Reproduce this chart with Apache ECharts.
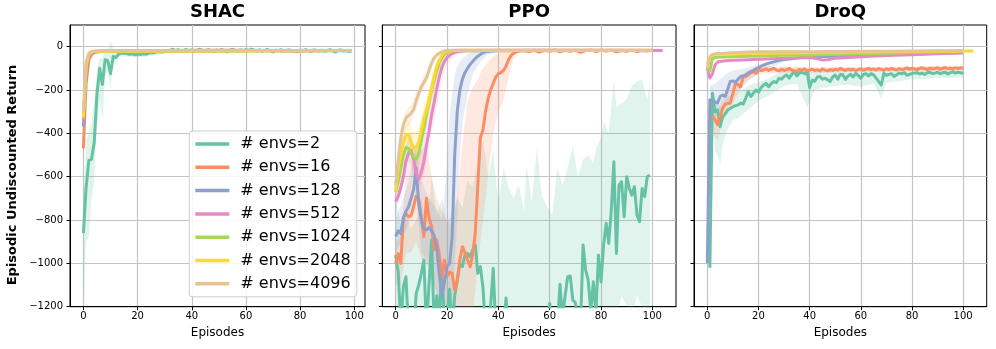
<!DOCTYPE html>
<html>
<head>
<meta charset="utf-8">
<script src="https://cdn.jsdelivr.net/npm/echarts@6/dist/echarts.min.js"></script>
<style>
html,body{margin:0;padding:0;background:#fff;}
#chart{width:996px;height:349px;}
</style>
</head>
<body>
<div id="chart"></div>
<script>
// ---------- labels / ticks ----------
const seriesNames = ['# envs=2', '# envs=16', '# envs=128', '# envs=512', '# envs=1024', '# envs=2048', '# envs=4096'];
const panelTitles = ['SHAC', 'PPO', 'DroQ'];
const xTicks = [0, 20, 40, 60, 80, 100];
const yTicks = [-1200, -1000, -800, -600, -400, -200, 0];
const yLabel = 'Episodic Undiscounted Return';
const xLabel = 'Episodes';

// ---------- SHAC ----------
// per-episode values, episodes 0..99
const SHAC_E2 = [
 -860,-650,-525,-520,-440,-220,-100,-175,-60,-65,
 -125,-45,-50,-35,-30,-30,-32,-35,-33,-38,
 -34,-36,-33,-35,-30,-27,-28,-24,-22,-25,
 -21,-20,-16,-12,-18,-14,-20,-17,-13,-19,
 -15,-22,-16,-12,-18,-21,-14,-17,-23,-15,
 -19,-13,-18,-24,-16,-12,-17,-21,-15,-19,
 -14,-18,-11,-16,-20,-15,-22,-17,-13,-19,
 -24,-16,-18,-14,-21,-17,-15,-20,-18,-23,
 -16,-19,-14,-18,-22,-15,-17,-20,-16,-21,
 -18,-14,-19,-24,-17,-15,-20,-18,-22,-19];
const SHAC_E16 = [[0,-470],[1,-170],[2,-60],[3,-35],[4,-27],[5,-24],[6,-22],[8,-20],[10,-19],[15,-18],[30,-18],[50,-17],[70,-18],[80,-20],[90,-18],[99,-18]];
const SHAC_E128 = [[0,-370],[1,-110],[2,-45],[3,-30],[4,-25],[6,-23],[8,-21],[10,-20],[20,-18],[99,-18]];
const SHAC_E512 = [[0,-340],[1,-95],[2,-40],[3,-27],[4,-22],[6,-20],[10,-19],[99,-18]];
const SHAC_E1024 = [[0,-330],[1,-90],[2,-38],[3,-26],[4,-22],[99,-18]];
const SHAC_E2048 = [[0,-325],[1,-85],[2,-36],[3,-25],[4,-21],[99,-18]];
const SHAC_E4096 = [[0,-300],[1,-70],[2,-30],[3,-22],[4,-20],[6,-19],[99,-18]];
// bands: [episode, lower, upper]
const SHAC_B2 = [[0,-1250,-700],[1,-900,-430],[2,-880,-400],[3,-700,-350],[4,-620,-250],[5,-360,-110],[6,-250,-50],[7,-340,-60],[8,-140,-10],[9,-110,-20],[10,-200,25],[11,-60,-10],[12,-80,-15],[13,-45,-10],[15,-45,-18],[18,-48,-22],[22,-48,-22],[26,-40,-18],[30,-32,-12],[40,-26,-8],[60,-26,-8],[80,-27,-9],[99,-28,-10]];
const SHAC_B16 = [[0,-520,-420],[1,-260,-110],[2,-100,-35],[3,-50,-25],[5,-30,-18],[99,-22,-14]];

// ---------- PPO ----------
const PPO_E2 = [
 -962,-1040,-1280,-1108,-1062,-1300,-1260,-1320,-1140,-1100,
 -1046,-985,-1300,-1100,-892,-1300,-1150,-1240,-1015,-1300,
 -1250,-1120,-1300,-1150,-1080,-1000,-1015,-960,-954,-970,
 -938,-915,-1046,-1015,-1110,-1300,-1350,-1200,-1023,-1300,
 -1380,-1400,-1300,-1160,-1320,-1400,-1450,-1400,-1380,-1420,
 -1450,-1400,-1380,-1420,-1450,-1400,-1380,-1420,-1350,-1300,
 -1185,-1300,-1350,-1300,-1096,-1250,-1150,-1062,-1058,-1170,
 -1180,-1260,-1300,-915,-1031,-1077,-1220,-1085,-1230,-962,
 -1085,-915,-815,-908,-754,-531,-954,-639,-623,-785,
 -600,-654,-685,-646,-777,-808,-654,-692,-600,-592];
const PPO_E16 = [[0,-1000],[1,-955],[2,-1000],[3,-790],[4,-770],[5,-785],[6,-780],[7,-740],[8,-690],[9,-700],[10,-790],[11,-877],[12,-700],[13,-790],[14,-830],[15,-938],[16,-892],[17,-960],[18,-1062],[19,-985],[20,-1062],[21,-1040],[22,-1046],[23,-1123],[24,-1077],[25,-985],[26,-923],[27,-950],[28,-985],[29,-1016],[30,-960],[31,-862],[32,-640],[33,-420],[34,-385],[35,-300],[36,-240],[37,-200],[38,-170],[39,-140],[40,-125],[41,-120],[42,-110],[43,-90],[44,-60],[45,-40],[46,-30],[47,-24],[48,-20],[50,-18],[52,-22],[54,-16],[56,-25],[58,-17],[60,-20],[62,-15],[64,-24],[66,-17],[68,-21],[70,-16],[72,-26],[74,-18],[76,-15],[78,-23],[80,-17],[82,-20],[84,-16],[86,-24],[88,-18],[90,-21],[92,-16],[94,-22],[96,-18],[98,-20],[100,-17]];
const PPO_E128 = [[0,-875],[1,-850],[2,-862],[3,-790],[4,-760],[5,-740],[6,-700],[7,-660],[8,-560],[9,-730],[10,-800],[11,-840],[12,-845],[13,-835],[14,-850],[15,-870],[16,-930],[17,-1050],[18,-1150],[19,-1090],[20,-1015],[21,-1000],[22,-880],[23,-500],[24,-300],[25,-200],[26,-150],[27,-120],[28,-100],[29,-82],[30,-68],[31,-55],[32,-44],[33,-36],[34,-28],[35,-24],[37,-20],[40,-18],[100,-18]];
const PPO_E512 = [[0,-715],[1,-690],[2,-650],[3,-600],[4,-530],[5,-490],[6,-478],[7,-520],[8,-585],[9,-612],[10,-580],[11,-530],[12,-455],[13,-390],[14,-315],[15,-255],[16,-195],[17,-140],[18,-95],[19,-68],[20,-50],[21,-40],[22,-32],[24,-23],[27,-18],[60,-17],[100,-18],[104,-18]];
const PPO_E1024 = [[0,-670],[1,-625],[2,-560],[3,-500],[4,-465],[5,-470],[6,-495],[7,-510],[8,-518],[9,-495],[10,-430],[11,-375],[12,-310],[13,-255],[14,-200],[15,-155],[16,-110],[17,-75],[18,-50],[19,-35],[20,-28],[22,-20],[25,-18],[100,-18]];
const PPO_E2048 = [[0,-665],[1,-560],[2,-500],[3,-440],[4,-410],[5,-405],[6,-440],[7,-470],[8,-465],[9,-440],[10,-385],[11,-330],[12,-290],[13,-245],[14,-195],[15,-135],[16,-92],[17,-62],[18,-40],[19,-28],[20,-22],[22,-18],[100,-18]];
const PPO_E4096 = [[0,-640],[1,-520],[2,-420],[3,-360],[4,-330],[5,-318],[6,-308],[7,-290],[8,-250],[9,-215],[10,-185],[11,-165],[12,-145],[13,-110],[14,-75],[15,-52],[16,-38],[17,-30],[18,-24],[19,-20],[20,-17],[22,-16],[25,-15],[100,-15]];
const PPO_B2 = [[0,-1300,-700],[2,-1400,-820],[4,-1400,-780],[6,-1400,-840],[8,-1400,-800],[10,-1400,-700],[12,-1400,-850],[14,-1400,-600],[16,-1400,-780],[18,-1400,-700],[20,-1400,-820],[22,-1400,-760],[24,-1400,-700],[26,-1400,-740],[28,-1400,-620],[30,-1400,-650],[32,-1400,-520],[34,-1400,-430],[36,-1400,-600],[38,-1400,-480],[40,-1400,-720],[42,-1400,-560],[44,-1400,-650],[46,-1400,-700],[48,-1400,-640],[50,-1400,-760],[51,-1400,-547],[53,-1400,-720],[55,-1400,-470],[57,-1400,-690],[59,-1400,-740],[61,-1400,-780],[63,-1400,-560],[65,-1400,-640],[67,-1400,-560],[69,-1400,-461],[71,-1400,-600],[73,-1400,-520],[75,-1400,-500],[77,-1400,-540],[78,-1400,-470],[80,-1350,-420],[81,-1300,-346],[83,-1300,-400],[85,-1200,-154],[86,-1250,-280],[88,-1150,-262],[90,-1200,-240],[92,-1250,-180],[94,-1150,-162],[96,-1200,-150],[98,-1250,-250],[99,-1200,-160]];
const PPO_B16 = [[0,-1100,-900],[2,-1100,-880],[4,-950,-600],[6,-950,-560],[8,-900,-450],[10,-980,-480],[12,-1000,-450],[14,-1050,-600],[16,-1150,-700],[18,-1300,-760],[20,-1300,-800],[22,-1350,-820],[24,-1350,-700],[26,-1350,-450],[28,-1300,-250],[30,-1250,-190],[32,-1000,-150],[34,-800,-100],[36,-600,-70],[38,-400,-45],[40,-300,-30],[42,-250,-25],[44,-140,-18],[46,-50,-14],[48,-25,-12],[100,-22,-12]];
const PPO_B128 = [[0,-950,-800],[3,-880,-700],[5,-820,-620],[8,-700,-460],[10,-950,-620],[13,-1000,-700],[16,-1150,-750],[18,-1300,-800],[20,-1250,-550],[21,-1250,-330],[22,-1200,-220],[23,-1000,-130],[24,-800,-90],[25,-500,-70],[26,-350,-55],[28,-220,-35],[30,-130,-25],[33,-70,-18],[36,-35,-15],[40,-22,-14],[100,-22,-14]];
const PPO_B512 = [[0,-760,-670],[4,-600,-460],[6,-560,-400],[8,-650,-500],[10,-640,-480],[12,-540,-340],[14,-400,-200],[16,-280,-100],[18,-150,-45],[20,-80,-28],[24,-30,-16],[104,-22,-14]];
const PPO_B1024 = [[0,-700,-640],[4,-520,-410],[6,-550,-440],[8,-570,-460],[10,-490,-370],[12,-370,-250],[14,-250,-150],[16,-150,-75],[18,-70,-35],[21,-30,-18],[100,-22,-14]];
const PPO_B2048 = [[0,-700,-620],[3,-500,-380],[5,-460,-340],[7,-520,-400],[9,-500,-370],[11,-390,-270],[13,-300,-190],[15,-180,-95],[17,-90,-40],[19,-40,-20],[22,-22,-14],[100,-22,-14]];
const PPO_B4096 = [[0,-680,-600],[2,-470,-370],[4,-380,-290],[6,-350,-270],[8,-290,-210],[10,-220,-150],[12,-180,-110],[14,-100,-50],[16,-50,-28],[18,-30,-18],[100,-22,-12]];

// ---------- DroQ ----------
// episodes 1..100
const DROQ_E2 = [
 -1020,-215,-300,-292,-369,-323,-310,-292,-285,-277,
 -272,-269,-261,-265,-238,-208,-230,-215,-200,-210,
 -190,-177,-169,-185,-170,-161,-166,-146,-150,-138,
 -131,-145,-128,-115,-135,-122,-118,-125,-115,-188,
 -154,-160,-140,-138,-150,-146,-152,-161,-140,-131,
 -150,-128,-130,-151,-135,-128,-140,-123,-133,-146,
 -128,-125,-135,-125,-130,-145,-161,-177,-123,-132,
 -128,-125,-138,-130,-122,-125,-120,-132,-128,-124,
 -122,-120,-126,-122,-128,-120,-118,-124,-122,-118,
 -125,-120,-118,-126,-120,-116,-122,-118,-120,-123];
// episodes 2..100
const DROQ_E16 = [
 -320,-335,-360,-320,-285,-265,-262,-260,-215,-170,
 -175,-185,-140,-138,-128,-120,-115,-123,-105,-110,
 -108,-102,-110,-104,-100,-108,-112,-104,-110,-106,
 -100,-108,-112,-115,-105,-110,-102,-112,-108,-104,
 -110,-106,-112,-103,-108,-112,-105,-110,-104,-108,
 -100,-106,-110,-103,-108,-104,-110,-106,-102,-108,
 -104,-100,-106,-103,-108,-101,-105,-109,-102,-106,
 -100,-104,-108,-101,-106,-103,-98,-104,-100,-103,
 -106,-100,-97,-102,-106,-99,-103,-100,-97,-104,
 -100,-96,-102,-99,-103,-98,-101,-97,-100];
const DROQ_E128 = [[0,-1000],[1,-246],[2,-250],[3,-255],[4,-260],[5,-230],[6,-223],[7,-230],[8,-195],[9,-161],[10,-158],[11,-165],[12,-150],[13,-138],[14,-135],[15,-131],[16,-122],[17,-115],[18,-110],[19,-102],[20,-97],[22,-85],[24,-76],[26,-70],[28,-63],[30,-59],[34,-54],[38,-49],[42,-46],[50,-44],[60,-40],[70,-36],[80,-33],[90,-30],[100,-27]];
const DROQ_E512 = [[0,-100],[1,-145],[2,-125],[3,-85],[4,-72],[5,-68],[7,-65],[10,-63],[14,-61],[20,-58],[25,-56],[30,-53],[35,-51],[40,-50],[43,-56],[45,-62],[47,-60],[50,-54],[55,-50],[60,-46],[70,-41],[80,-37],[90,-33],[100,-29]];
const DROQ_E1024 = [[0,-105],[1,-112],[2,-55],[3,-50],[5,-48],[10,-46],[20,-43],[30,-40],[40,-38],[50,-36],[60,-33],[70,-30],[80,-27],[90,-24],[100,-22]];
const DROQ_E2048 = [[0,-80],[1,-45],[2,-36],[4,-34],[10,-32],[20,-30],[40,-28],[60,-25],[80,-22],[100,-20],[104,-20]];
const DROQ_E4096 = [[0,-100],[1,-50],[2,-38],[3,-33],[5,-31],[8,-29],[12,-27],[16,-25],[20,-24],[30,-24],[40,-23],[50,-22],[60,-21],[70,-21],[80,-20],[90,-19],[100,-18]];
const DROQ_B2 = [[1,-1300,-800],[2,-300,-180],[3,-480,-240],[4,-500,-250],[5,-550,-280],[6,-450,-260],[8,-380,-230],[10,-340,-220],[12,-330,-210],[15,-300,-190],[18,-270,-170],[20,-250,-165],[25,-220,-140],[30,-180,-110],[35,-170,-95],[39,-280,-100],[40,-260,-120],[42,-200,-115],[45,-190,-110],[50,-180,-105],[55,-175,-105],[60,-185,-105],[65,-170,-100],[68,-240,-95],[70,-165,-100],[75,-160,-98],[80,-150,-95],[85,-150,-92],[90,-145,-92],[95,-145,-90],[100,-140,-90]];
const DROQ_B16 = [[2,-400,-270],[4,-430,-300],[6,-350,-230],[8,-300,-220],[10,-260,-170],[12,-220,-140],[15,-160,-115],[20,-125,-90],[40,-122,-95],[100,-110,-90]];
const DROQ_B128 = [[0,-1050,-950],[1,-330,-180],[3,-330,-170],[5,-300,-150],[8,-270,-120],[10,-230,-110],[15,-170,-100],[20,-120,-82],[30,-70,-50],[40,-52,-40],[100,-30,-24]];
const DROQ_B4096 = [[0,-115,-85],[1,-60,-40],[3,-40,-27],[100,-22,-14]];

// ---------- build ----------
const palette = ['#66c2a5', '#fc8d62', '#8da0cb', '#e78ac3', '#a6d854', '#ffd92f', '#e5c494'];
function seq(start, ys) { return ys.map((y, i) => [start + i, y]); }

const panels = [
  { xmin: -4.95, xmax: 103.95,
    lines: [seq(0, SHAC_E2), SHAC_E16, SHAC_E128, SHAC_E512, SHAC_E1024, SHAC_E2048, SHAC_E4096],
    bands: [[0, SHAC_B2], [1, SHAC_B16]] },
  { xmin: -5.2, xmax: 109.2,
    lines: [seq(0, PPO_E2), PPO_E16, PPO_E128, PPO_E512, PPO_E1024, PPO_E2048, PPO_E4096],
    bands: [[0, PPO_B2], [1, PPO_B16], [2, PPO_B128], [3, PPO_B512], [4, PPO_B1024], [5, PPO_B2048], [6, PPO_B4096]] },
  { xmin: -5.2, xmax: 109.2,
    lines: [seq(1, DROQ_E2), seq(2, DROQ_E16), DROQ_E128, DROQ_E512, DROQ_E1024, DROQ_E2048, DROQ_E4096],
    bands: [[0, DROQ_B2], [1, DROQ_B16], [2, DROQ_B128], [6, DROQ_B4096]] }
];

const gridBoxes = [
  { left: 70, top: 25, width: 295, height: 281.7 },
  { left: 382.3, top: 25, width: 293.7, height: 281.7 },
  { left: 694, top: 25, width: 292.7, height: 281.7 }
];
const FONT = 'DejaVu Sans';
const minus = v => String(v).replace('-', '\u2212');

function bandSeries(i, k, band) {
  return {
    type: 'custom', xAxisIndex: i, yAxisIndex: i, silent: true, z: 1,
    data: band, encode: { x: 0, y: [1, 2] },
    renderItem: function (params, api) {
      if (params.dataIndex !== 0) return null;
      const upper = band.map(b => api.coord([b[0], b[2]]));
      const lower = band.slice().reverse().map(b => api.coord([b[0], b[1]]));
      const cs = params.coordSys;
      return {
        type: 'group',
        clipPath: { type: 'rect', shape: { x: cs.x, y: cs.y, width: cs.width, height: cs.height } },
        children: [{ type: 'polygon', shape: { points: upper.concat(lower) },
          style: { fill: palette[k], opacity: 0.2, stroke: null } }]
      };
    }
  };
}

const grids = [], xAxes = [], yAxes = [], series = [], titles = [];
panels.forEach((p, i) => {
  const g = gridBoxes[i];
  grids.push(Object.assign({ show: true, borderColor: '#000', borderWidth: 1, backgroundColor: 'transparent', containLabel: false }, g));
  titles.push({ text: panelTitles[i], left: g.left + g.width / 2, top: 3, textAlign: 'center', padding: 0,
    textStyle: { fontFamily: FONT, fontSize: 18, fontWeight: 'bold', color: '#000' } });
  xAxes.push({ type: 'value', gridIndex: i, min: p.xmin, max: p.xmax,
    name: xLabel, nameLocation: 'middle', nameGap: 20,
    nameTextStyle: { fontFamily: FONT, fontSize: 12, color: '#000' },
    axisLine: { show: true, onZero: false, lineStyle: { color: '#000', width: 1 } },
    axisTick: { show: true, length: 3.5, customValues: xTicks, lineStyle: { color: '#000', width: 1 } },
    axisLabel: { customValues: xTicks, fontFamily: FONT, fontSize: 10, color: '#000', margin: 5, formatter: minus },
    splitLine: { show: true, lineStyle: { color: '#c4c4c4', width: 1.2 } } });
  yAxes.push({ type: 'value', gridIndex: i, min: -1200, max: 100,
    axisLine: { show: true, onZero: false, lineStyle: { color: '#000', width: 1 } },
    axisTick: { show: true, length: 3.5, customValues: yTicks, lineStyle: { color: '#000', width: 1 } },
    axisLabel: { show: i === 0, customValues: yTicks, fontFamily: FONT, fontSize: 10, color: '#000', margin: 7, formatter: minus },
    splitLine: { show: true, lineStyle: { color: '#c4c4c4', width: 1.2 } } });
  p.bands.forEach(([k, band]) => series.push(bandSeries(i, k, band)));
  p.lines.forEach((d, k) => {
    series.push({ type: 'line', name: seriesNames[k], xAxisIndex: i, yAxisIndex: i, data: d,
      symbol: 'none', showSymbol: false, z: 3, clip: true,
      itemStyle: { color: palette[k] },
      lineStyle: { color: palette[k], width: 3, join: 'round', cap: 'butt' } });
  });
});

const chart = echarts.init(document.getElementById('chart'), null, { renderer: 'canvas' });
chart.setOption({
  animation: false,
  backgroundColor: '#fff',
  color: palette,
  title: titles,
  grid: grids,
  xAxis: xAxes,
  yAxis: yAxes,
  legend: {
    data: seriesNames, orient: 'vertical', left: 189.3, top: 131,
    icon: 'rect', itemWidth: 34, itemHeight: 3.5, itemGap: 7.3,
    padding: [5, 6, 5, 6],
    backgroundColor: 'rgba(255,255,255,0.85)', borderColor: '#cccccc', borderWidth: 1, borderRadius: 3,
    textStyle: { fontFamily: FONT, fontSize: 16, color: '#000', lineHeight: 16, padding: [0, 0, 0, 6] },
    selectedMode: false
  },
  graphic: [{
    type: 'text', x: 13, y: 175, rotation: Math.PI / 2, silent: true,
    style: { text: yLabel, font: 'bold 13px "DejaVu Sans"', fill: '#000', align: 'center', verticalAlign: 'middle' }
  }],
  series: series
});
</script>
</body>
</html>
